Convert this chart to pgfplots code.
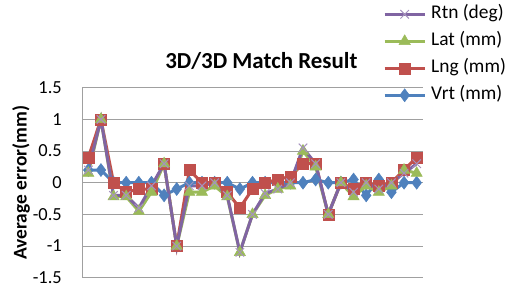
\documentclass[border=0pt]{standalone}
\usepackage{fontspec}
\setmainfont{Carlito}
\usepackage{pgfplots}
\usepackage{pgfplotstable}
\pgfplotsset{compat=1.18}
\definecolor{xblue}{HTML}{4F81BD}
\definecolor{xred}{HTML}{C0504D}
\definecolor{xgreen}{HTML}{9BBB59}
\definecolor{xpurple}{HTML}{8064A2}
\definecolor{gridgray}{HTML}{A0A0A0}
\pgfplotstableread{
i  vrt   lng    lat    rtn
0  0.2   0.4    0.15   0.2
1  0.2   1.0    1.0    1.0
2  0.0   0.0   -0.22  -0.2
3  0.0  -0.15  -0.22  -0.2
4  0.0  -0.1   -0.45  -0.4
5  0.0  -0.1   -0.15  -0.05
6 -0.2   0.3    0.3    0.3
7 -0.1  -1.0   -1.0   -1.0
8  0.0   0.2   -0.15  -0.05
9  0.0   0.0   -0.15  -0.05
10 0.0   0.0   -0.05   0.0
11 0.0  -0.15  -0.22  -0.2
12 -0.1 -0.4   -1.1   -1.1
13 0.0  -0.1   -0.5   -0.5
14 0.0   0.0   -0.2   -0.17
15 0.0   0.05  -0.1   -0.1
16 0.0   0.1   -0.05   0.0
17 0.0   0.3    0.5    0.55
18 0.05  0.3    0.25   0.3
19 0.0  -0.5   -0.5   -0.5
20 0.0   0.0    0.0    0.0
21 0.05 -0.1   -0.22  -0.15
22 -0.2  0.0   -0.05   0.0
23 0.05 -0.05  -0.15  -0.1
24 -0.15 0.0   -0.05   0.0
25 0.0   0.2    0.2    0.15
26 0.0   0.4    0.15   0.3
}\datatable
\begin{document}
\begin{tikzpicture}
\useasboundingbox (0,0) rectangle (512bp,286bp);
\begin{axis}[
  at={(82bp,8.3bp)}, anchor=south west,
  scale only axis, width=341bp, height=190bp,
  xmin=-0.5, xmax=26.5, ymin=-1.5, ymax=1.5,
  axis x line=none, axis y line*=left,
  y axis line style={line width=0.75bp, draw=gridgray, -},
  ytick={-1.5,-1,-0.5,0,0.5,1,1.5},
  yticklabels={-1.5,-1,-0.5,0,0.5,1,1.5},
  ymajorgrids, grid style={line width=0.75bp, draw=gridgray},
  major tick length=0pt,
  yticklabel style={font=\fontsize{18.5}{18.5}\selectfont, anchor=east, inner sep=0pt, xshift=-20bp},
  ylabel={Average error(mm)},
  ylabel style={font=\bfseries\fontsize{19.5}{20}\selectfont, at={(axis description cs:-0.179,0.5)}, anchor=center},
  title={3D/3D Match Result},
  title style={font=\bfseries\fontsize{23}{23}\selectfont, at={(axis description cs:0.526,1.072)}, anchor=base},
  reverse legend,
  legend image code/.code={\draw[mark repeat=2,mark phase=2,#1] plot coordinates {(0bp,0bp) (20bp,0bp) (40bp,0bp)};},
  legend style={at={(axis description cs:0.8827,1.427)}, anchor=north west, draw=none, fill=none,
    inner sep=0pt, column sep=5bp, row sep=12bp,
    nodes={inner sep=0pt, text height=12bp, text depth=3bp},
    font=\fontsize{19.5}{20}\selectfont},
  legend cell align=left,
  every axis plot/.append style={line width=3bp},
]
\addplot[color=xblue, mark=diamond*, mark size=6.5bp, mark options={fill=xblue, draw=xblue, line width=0.5bp}] table[x=i, y=vrt] {\datatable};
\addlegendentry{Vrt (mm)}
\addplot[color=xred, mark=square*, mark size=5.5bp, mark options={fill=xred, draw=xred, line width=0.5bp}] table[x=i, y=lng] {\datatable};
\addlegendentry{Lng (mm)}
\addplot[color=xgreen, mark=triangle*, mark size=6.5bp, mark options={fill=xgreen, draw=xgreen, line width=0.5bp}] table[x=i, y=lat] {\datatable};
\addlegendentry{Lat (mm)}
\addplot[color=xpurple, mark=x, mark size=6bp, mark options={draw=xpurple!70, line width=1bp}] table[x=i, y=rtn] {\datatable};
\addlegendentry{Rtn (deg)}
\end{axis}
\end{tikzpicture}
\end{document}
